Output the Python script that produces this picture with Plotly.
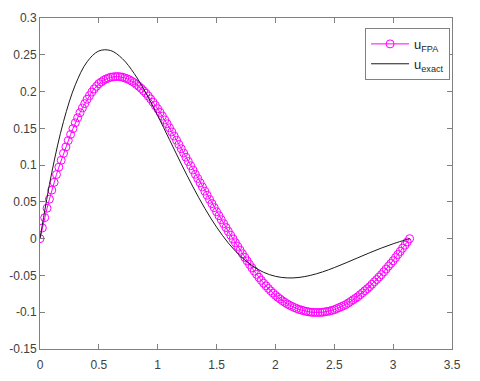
import plotly.graph_objects as go

# FPA approximation, step 0.02 from 0 to 3.14
x_fpa = [
    0.00, 0.02, 0.04, 0.06, 0.08, 0.10, 0.12, 0.14, 0.16, 0.18,
    0.20, 0.22, 0.24, 0.26, 0.28, 0.30, 0.32, 0.34, 0.36, 0.38,
    0.40, 0.42, 0.44, 0.46, 0.48, 0.50, 0.52, 0.54, 0.56, 0.58,
    0.60, 0.62, 0.64, 0.66, 0.68, 0.70, 0.72, 0.74, 0.76, 0.78,
    0.80, 0.82, 0.84, 0.86, 0.88, 0.90, 0.92, 0.94, 0.96, 0.98,
    1.00, 1.02, 1.04, 1.06, 1.08, 1.10, 1.12, 1.14, 1.16, 1.18,
    1.20, 1.22, 1.24, 1.26, 1.28, 1.30, 1.32, 1.34, 1.36, 1.38,
    1.40, 1.42, 1.44, 1.46, 1.48, 1.50, 1.52, 1.54, 1.56, 1.58,
    1.60, 1.62, 1.64, 1.66, 1.68, 1.70, 1.72, 1.74, 1.76, 1.78,
    1.80, 1.82, 1.84, 1.86, 1.88, 1.90, 1.92, 1.94, 1.96, 1.98,
    2.00, 2.02, 2.04, 2.06, 2.08, 2.10, 2.12, 2.14, 2.16, 2.18,
    2.20, 2.22, 2.24, 2.26, 2.28, 2.30, 2.32, 2.34, 2.36, 2.38,
    2.40, 2.42, 2.44, 2.46, 2.48, 2.50, 2.52, 2.54, 2.56, 2.58,
    2.60, 2.62, 2.64, 2.66, 2.68, 2.70, 2.72, 2.74, 2.76, 2.78,
    2.80, 2.82, 2.84, 2.86, 2.88, 2.90, 2.92, 2.94, 2.96, 2.98,
    3.00, 3.02, 3.04, 3.06, 3.08, 3.10, 3.12, 3.14,
]
u_fpa = [
    0.0000, 0.0146, 0.0286, 0.0414, 0.0537, 0.0660, 0.0766, 0.0872, 0.0972, 0.1066,
    0.1160, 0.1247, 0.1334, 0.1417, 0.1496, 0.1575, 0.1644, 0.1713, 0.1777, 0.1836,
    0.1895, 0.1944, 0.1993, 0.2036, 0.2072, 0.2108, 0.2130, 0.2153, 0.2170, 0.2183,
    0.2195, 0.2199, 0.2203, 0.2205, 0.2200, 0.2196, 0.2185, 0.2174, 0.2159, 0.2140,
    0.2122, 0.2096, 0.2071, 0.2042, 0.2009, 0.1977, 0.1938, 0.1899, 0.1856, 0.1811,
    0.1766, 0.1716, 0.1666, 0.1614, 0.1561, 0.1507, 0.1451, 0.1395, 0.1338, 0.1281,
    0.1223, 0.1165, 0.1107, 0.1049, 0.0991, 0.0933, 0.0875, 0.0818, 0.0760, 0.0703,
    0.0646, 0.0590, 0.0533, 0.0477, 0.0422, 0.0366, 0.0312, 0.0258, 0.0204, 0.0151,
    0.0098, 0.0047, -0.0004, -0.0055, -0.0106, -0.0157, -0.0206, -0.0255, -0.0303, -0.0350,
    -0.0397, -0.0441, -0.0485, -0.0527, -0.0567, -0.0607, -0.0642, -0.0677, -0.0710, -0.0740,
    -0.0770, -0.0796, -0.0821, -0.0845, -0.0866, -0.0887, -0.0904, -0.0921, -0.0936, -0.0949,
    -0.0962, -0.0971, -0.0980, -0.0988, -0.0994, -0.1000, -0.1002, -0.1003, -0.1004, -0.1003,
    -0.1001, -0.0995, -0.0990, -0.0984, -0.0975, -0.0966, -0.0952, -0.0938, -0.0924, -0.0910,
    -0.0895, -0.0874, -0.0853, -0.0831, -0.0810, -0.0789, -0.0762, -0.0735, -0.0707, -0.0680,
    -0.0653, -0.0620, -0.0587, -0.0555, -0.0522, -0.0489, -0.0451, -0.0413, -0.0375, -0.0338,
    -0.0300, -0.0258, -0.0215, -0.0173, -0.0130, -0.0088, -0.0044, 0.0000,
]

# exact solution
x_exact = [0.0, 0.1, 0.2, 0.3, 0.4, 0.5, 0.6, 0.7, 0.8, 0.9, 1.0, 1.1, 1.2, 1.3, 1.4, 1.5,
           1.6, 1.7, 1.8, 1.9, 2.0, 2.1, 2.2, 2.3, 2.4, 2.5, 2.6, 2.7, 2.8, 2.9, 3.0, 3.1, 3.1416]
u_exact = [0.0, 0.08988, 0.15941, 0.20915, 0.24043, 0.25519, 0.25576, 0.24468, 0.22457,
           0.19797, 0.16726, 0.13456, 0.10172, 0.07025, 0.04130, 0.01574, -0.00589, -0.02334,
           -0.03657, -0.04576, -0.05121, -0.05337, -0.05272, -0.04981, -0.04519, -0.03936,
           -0.03281, -0.02597, -0.01919, -0.01278, -0.00696, -0.00187, 0.0]

x_ticks = [0, 0.5, 1, 1.5, 2, 2.5, 3, 3.5]
x_labels = ["0", "0.5", "1", "1.5", "2", "2.5", "3", "3.5"]
y_ticks = [-0.15, -0.1, -0.05, 0, 0.05, 0.1, 0.15, 0.2, 0.25, 0.3]
y_labels = ["-0.15", "-0.1", "-0.05", "0", "0.05", "0.1", "0.15", "0.2", "0.25", "0.3"]

fig = go.Figure()
fig.add_trace(go.Scatter(
    x=x_fpa, y=u_fpa, mode="lines+markers", name="u<sub>FPA</sub>",
    line=dict(color="#ff00ff", width=1),
    marker=dict(symbol="circle-open", size=8, color="#ff00ff", line=dict(width=1, color="#ff00ff")),
))
fig.add_trace(go.Scatter(
    x=x_exact, y=u_exact, mode="lines", name="u<sub>exact</sub>",
    line=dict(color="#1a1a1a", width=1, shape="spline"),
))

axis_common = dict(
    showline=True, linecolor="#808080", linewidth=1, mirror="ticks",
    ticks="inside", ticklen=5, tickcolor="#808080", tickwidth=1,
    showgrid=False, zeroline=False, automargin=False,
    tickfont=dict(family="Liberation Sans, Arial, sans-serif", size=12, color="#404040"),
)
fig.update_xaxes(range=[0, 3.5], tickvals=x_ticks, ticktext=x_labels,
                 ticklabelstandoff=5, **axis_common)
fig.update_yaxes(range=[-0.15, 0.3], tickvals=y_ticks, ticktext=y_labels, **axis_common)

fig.update_layout(
    width=480, height=381,
    margin=dict(l=32, r=36, t=10, b=40),
    paper_bgcolor="white", plot_bgcolor="white",
    showlegend=True,
    legend=dict(
        x=0.789, y=0.97, xanchor="left", yanchor="top",
        bgcolor="white", bordercolor="#808080", borderwidth=1,
        font=dict(family="Liberation Sans, Arial, sans-serif", size=13, color="#262626"),
        itemwidth=38, tracegroupgap=0,
    ),
)

fig.write_html("out.html")
